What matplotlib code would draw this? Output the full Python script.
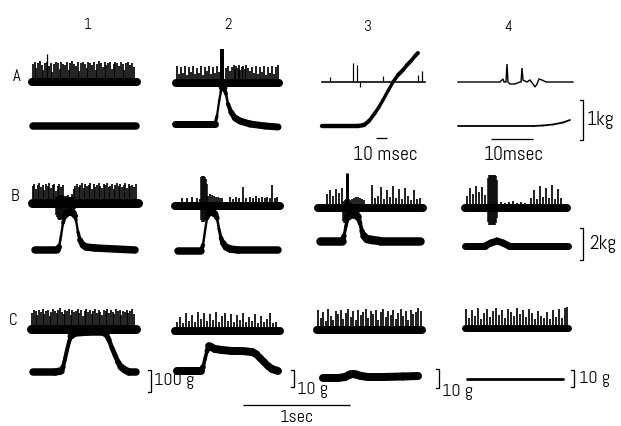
import matplotlib
matplotlib.use('Agg')
import matplotlib.pyplot as plt
import numpy as np
from matplotlib.collections import LineCollection

plt.rcParams['font.family'] = ['Abel', 'DejaVu Sans']

# ---------------- data (relative offsets in trace units) ----------------
col_labels = ['1', '2', '3', '4']
row_labels = ['A', 'B', 'C']

# Row A
A1_spk_t = [1,3,4,6,8,10,11,13,15,17,19,20,22,24,26,28,29,31,33,35,37,38,40,42,44,46,47,49,51,53,55,56,58,60,62,64,65,67,69,71,73,74,76,78,80,82,83,85,87,89,91,92,94,96,98,100,102]
A1_spk_h = [18,20,14,19,21,17,12,19,20,16,19,10,18,20,19,13,20,18,17,20,12,19,21,18,16,20,11,19,20,18,14,20,19,17,20,12,18,21,19,15,20,17,19,20,13,18,20,19,16,20,18,12,19,20,17,19,15]
A1_force_t = [0, 103]
A1_force_v = [0, 0]

A2_spk_t = [1,3,5,7,9,11,13,15,17,19,21,23,25,27,29,31,33,35,37,39,41,43,45,50,52,54,56,58,59,60,62,63,64,66,67,69,70,72,74,76,78,80,82,84,86,88,90,92,94,96,98,100,102]
A2_spk_h = [17,9,16,10,17,8,16,11,17,9,15,10,17,8,16,12,17,9,16,10,17,11,16,15,17,12,16,18,14,17,15,18,13,16,17,14,18,15,12,16,10,17,9,16,11,17,8,16,10,17,9,16,18]
A2_big_t = [46]
A2_big_h = [34]
A2_force_t = [0,20,40,42,44,46,47,49,51,53,56,60,65,75,90,103]
A2_force_v = [0,0,0,8,22,33,37,36,30,20,12,6,3,0,-2,-3]

A3_spk_t = [8,31,35,38,61,96,100]
A3_spk_h = [5,19,17,-5,6,7,11]
A3_force_t = [0,36,42,47,53,57,61,66,71,76,81,85,89,93,96]
A3_force_v = [0,0,1,5,13,19,26,35,44,51,56,61,65,70,73]

A4_emg_t = [0,42,45,46,48,49,50,52,57,62,63,64,65,69,72,75,77,79,81,84,88,115]
A4_emg_v = [0,0,3,0,0,18,0,-2,-2,0,0,14,2,0,2,-2,-5,-2,3,2,0,0]
A4_force_t = [0,75,85,95,105,112]
A4_force_v = [0,0,0.5,1.5,3.5,6]

# Row B
B1_spk_t = [1,2,4,6,7,9,11,12,14,16,17,19,21,22,24,26,27,29,31,34,36,38,40,42,43,45,47,48,50,52,53,55,57,58,60,62,63,65,67,68,70,72,73,75,77,78,80,82,83,85,87,88,90,92,93,95,97,98,100,102,104]
B1_spk_h = [17,19,14,18,20,16,18,13,19,17,20,15,18,19,12,17,19,16,18,7,8,6,9,14,17,19,16,18,20,15,19,17,18,20,14,19,16,18,20,17,15,19,18,20,16,17,19,14,18,20,17,19,16,18,20,15,19,17,18,16,19]
B1_burst_t = [24,25,26,27,28,29,30,31,32,33,34,35,36,37,38,39,40,41,42,43]
B1_burst_up = [6,6,7,7,8,8,8,7,7,6,6,6,6,6,6,6,6,6,5,5]
B1_burst_dn = [12,14,16,17,17,17,16,14,12,11,10,10,10,10,10,10,10,9,8,6]
B1_force_t = [0,22,24,26,28,30,32,35,38,40,41,43,45,48,51,60,100]
B1_force_v = [0,0,3,14,27,34,37,38,37,34,30,18,10,5,3,2,0]

B2_spk_t = [7,12,17,22,25,33,35,37,39,41,43,45,47,55,58,61,64,68,71,75,78,81,84,87,90,92,95,97,100,102]
B2_spk_h = [8,8,9,8,7,10,12,11,10,9,9,8,8,9,7,9,8,19,8,9,8,10,8,9,8,9,8,21,8,9]
B2_burst_t = [26,27,28,29,30,31,32]
B2_burst_up = [29,30,30,30,29,27,22]
B2_burst_dn = [14,16,16,16,15,13,9]
B2_force_t = [0,23,25,27,29,31,34,37,39,41,43,45,48,52,60,100]
B2_force_v = [0,0,6,20,33,38,39,37,33,22,13,8,4,2,1,1]

B3_spk_t = [9,12,15,18,21,24,34,36,38,40,42,44,46,54,57,60,63,66,69,72,75,78,81,84,87,90,93,96,99,102]
B3_spk_h = [14,18,12,19,15,20,9,10,11,11,10,9,8,23,10,12,21,9,18,11,22,10,19,9,20,12,8,18,9,10]
B3_big_t = [29]
B3_big_h = [35]
B3_burst_t = [25,26,27,28,29,30,31,32,33]
B3_burst_up = [6,7,8,9,10,10,9,8,6]
B3_burst_dn = [13,15,15,15,15,14,12,9,5]
B3_force_t = [0,22,24,26,28,30,33,36,38,40,42,44,47,52,60,100]
B3_force_v = [0,0,5,15,24,26,27,26,24,18,10,5,2,1,0,0]

B4_spk_t = [2,5,8,11,14,17,20,36,40,44,48,52,56,60,66,69,72,75,78,81,84,87,90,93,96]
B4_spk_h = [12,20,14,22,16,21,13,6,5,6,7,5,6,5,10,18,9,22,11,20,10,23,9,19,10]
B4_burst_t = [23,24,25,26,27,28,29,30,31,32]
B4_burst_up = [30,33,33,33,33,33,33,33,32,28]
B4_burst_dn = [14,17,17,17,17,17,17,17,15,10]
B4_force_t = [0,20,26,32,38,44,103]
B4_force_v = [0,0,3,5,3,0,0]

# Row C
C1_spk_t = [1,3,5,6,8,10,12,13,15,17,19,20,22,24,26,27,29,31,33,34,36,38,40,41,43,45,47,48,50,52,54,55,57,59,61,62,64,66,68,69,71,73,75,76,78,80,82,83,85,87,89,90,92,94,96,97,99,101,103]
C1_spk_h = [16,19,18,14,19,17,20,15,18,19,13,17,20,18,16,19,21,17,15,19,18,20,14,19,17,18,20,16,19,13,18,20,17,19,15,18,20,16,19,17,14,19,18,20,16,19,17,15,20,18,19,14,18,17,19,16,18,20,15]
C1_force_t = [0,22,28,30,32,34,36,38,42,55,70,73,76,79,82,85,88,92,96,103]
C1_force_v = [0,0,1,5,13,22,30,36,39,40,40,38,32,24,17,10,5,2,0,0]

C2_spk_t = [2,5,8,11,14,17,20,23,26,29,32,35,38,41,44,47,50,53,56,59,62,65,68,71,74,77,80,83,86,89,92,95,98,101]
C2_spk_h = [9,14,8,18,10,16,9,19,12,18,10,17,11,19,9,15,18,10,17,9,16,11,18,9,14,10,17,8,15,9,12,18,8,9]
C2_force_t = [0,24,26,28,30,32,34,38,45,55,65,75,79,83,87,91,95,101]
C2_force_v = [0,0,4,12,20,25,24,22,21,20,20,19,17,13,9,5,2,0]

C3_spk_t = [1,4,6,9,11,14,16,19,21,24,26,29,31,34,36,39,41,44,46,49,51,54,56,59,61,64,66,69,71,74,76,79,81,84,86,89,91,94,96,99,101,104]
C3_spk_h = [20,12,18,9,21,14,10,19,16,20,11,17,21,13,19,10,20,15,18,21,12,19,16,20,10,18,21,13,19,15,20,11,17,21,14,19,10,20,16,18,22,19]
C3_force_t = [0,15,22,27,30,33,38,45,60,80,95]
C3_force_v = [0,0,1,3.5,4,3.5,2,1,1,1.5,2]

C4_spk_t = [1,4,7,10,13,16,19,22,25,28,31,34,37,40,43,46,49,52,55,58,61,64,67,70,73,76,79,82,85,88,91,94,97,100,102]
C4_spk_h = [19,10,18,12,20,9,15,19,11,17,20,13,18,10,19,16,12,20,14,18,11,19,15,9,17,12,10,16,9,18,11,19,10,20,21]
C4_force_t = [0, 96]
C4_force_v = [0, 0]

# ---------------- figure ----------------
W, H = 621, 426
fig = plt.figure(figsize=(W / 100, H / 100), dpi=100)
ax = fig.add_axes([0, 0, 1, 1])
ax.set_xlim(0, W)
ax.set_ylim(H, 0)
ax.axis('off')
PT = 72 / 100  # pixels -> points
K = 'black'
SPK = 1.7      # spike stroke width, px


def band(x0, y0, L, w):
    ax.plot([x0, x0 + L], [y0, y0], color=K, lw=w * PT, solid_capstyle='round')


def spikes(x0, y0, t, h, w=SPK):
    t = np.asarray(t, float)
    h = np.asarray(h, float)
    ax.vlines(x0 + t, y0 - h, y0, colors=K, lw=w * PT)


def burst(x0, y0, t, up, dn, w=1.5):
    t = np.asarray(t, float)
    ax.vlines(x0 + t, y0 - np.asarray(up, float), y0 + np.asarray(dn, float),
              colors=K, lw=w * PT)


def force(x0, y0, t, v, thick, thin, k=0.5):
    x = x0 + np.asarray(t, float)
    y = y0 - np.asarray(v, float)
    segs = [[(x[i], y[i]), (x[i + 1], y[i + 1])] for i in range(len(x) - 1)]
    slope = np.abs(np.diff(y) / np.maximum(np.diff(x), 1e-6))
    widths = np.maximum(thin, thick / np.sqrt(1 + (k * slope) ** 2)) * PT
    lc = LineCollection(segs, linewidths=widths, colors=K,
                        capstyle='round', joinstyle='round')
    ax.add_collection(lc)


def thin_trace(x0, y0, t, v, w):
    ax.plot(x0 + np.asarray(t, float), y0 - np.asarray(v, float), color=K,
            lw=w * PT, solid_joinstyle='miter')


# ---- Row A ----
band(32, 82, 105, 8)
spikes(32, 82, A1_spk_t, A1_spk_h)
spikes(32, 82, [15], [28], w=1.3)
force(33, 125.5, A1_force_t, A1_force_v, 7.5, 2.5)

band(176, 82.5, 103, 8)
spikes(176, 82.5, A2_spk_t, A2_spk_h)
spikes(176, 82.5, A2_big_t, A2_big_h, w=4)
force(175, 124, A2_force_t, A2_force_v, 7, 2.2)

thin_trace(322, 82, [0, 103], [0, 0], 1.6)
spikes(322, 82, A3_spk_t, A3_spk_h, w=1.2)
force(322, 126, A3_force_t, A3_force_v, 4.4, 2.6)

thin_trace(458, 82, A4_emg_t, A4_emg_v, 1.4)
force(458, 126, A4_force_t, A4_force_v, 1.8, 1.8)

# ---- Row B ----
band(32, 203, 106, 9)
spikes(32, 203, B1_spk_t, B1_spk_h)
burst(32, 203, B1_burst_t, B1_burst_up, B1_burst_dn)
force(35, 250, B1_force_t, B1_force_v, 7.5, 2.4)

band(175, 206, 105, 8)
spikes(175, 206, B2_spk_t, B2_spk_h)
burst(175, 206, B2_burst_t, B2_burst_up, B2_burst_dn)
force(178, 251, B2_force_t, B2_force_v, 7.5, 2.4)

band(318, 208, 105, 8)
spikes(318, 208, B3_spk_t, B3_spk_h)
spikes(318, 208, B3_big_t, B3_big_h, w=3)
burst(318, 208, B3_burst_t, B3_burst_up, B3_burst_dn)
force(320, 241, B3_force_t, B3_force_v, 8.5, 2.6)

band(465, 208, 102, 8)
spikes(465, 208, B4_spk_t, B4_spk_h)
burst(465, 208, B4_burst_t, B4_burst_up, B4_burst_dn)
force(465, 246, B4_force_t, B4_force_v, 7, 7)

# ---- Row C ----
band(31, 329, 105, 9)
spikes(31, 329, C1_spk_t, C1_spk_h)
force(33, 372, C1_force_t, C1_force_v, 7.5, 4)

band(175, 331, 105, 8)
spikes(175, 331, C2_spk_t, C2_spk_h)
force(177, 371, C2_force_t, C2_force_v, 8, 2.6)

band(317, 330, 105, 8)
spikes(317, 330, C3_spk_t, C3_spk_h)
force(323, 378, C3_force_t, C3_force_v, 8, 8)

band(465, 328, 103, 7)
spikes(465, 328, C4_spk_t, C4_spk_h)
force(467, 379, C4_force_t, C4_force_v, 2.8, 2.8)

# ---------------- labels & scale bars ----------------
for lab, x, y in zip(col_labels, [88, 228, 368, 508], [25, 25, 27, 27]):
    ax.text(x, y, lab, fontsize=11, ha='center', va='center')
for lab, x, y in zip(row_labels, [17, 15, 13], [77, 197, 321]):
    ax.text(x, y, lab, fontsize=12, ha='center', va='center')


def hbar(x1, x2, y, w=1.3):
    ax.plot([x1, x2], [y, y], color=K, lw=w * PT, solid_capstyle='butt')


def bracket(x, y1, y2, tick=3, w=1.3):
    ax.plot([x - tick, x, x, x - tick], [y1, y1, y2, y2], color=K, lw=w * PT,
            solid_joinstyle='miter')


hbar(376, 387, 138)
ax.text(385, 155, '10 msec', fontsize=14, ha='center', va='center')
hbar(491, 533, 139)
ax.text(514, 155, '10msec', fontsize=14, ha='center', va='center')

bracket(583, 100, 140)
ax.text(587, 120, '1kg', fontsize=14, ha='left', va='center')
bracket(583, 228, 260)
ax.text(589, 244, '2kg', fontsize=14, ha='left', va='center')

bracket(151, 370, 392)
ax.text(154, 381, '100 g', fontsize=13, ha='left', va='center')
bracket(294, 370, 387)
ax.text(297, 390, '10 g', fontsize=13, ha='left', va='center')
bracket(439, 369, 388)
ax.text(442, 392, '10 g', fontsize=13, ha='left', va='center')
bracket(574, 370, 387)
ax.text(579, 379, '10 g', fontsize=13, ha='left', va='center')

hbar(243, 350, 405)
ax.text(297, 418, '1sec', fontsize=13, ha='center', va='center')

fig.savefig('out.png', dpi=100, facecolor='white')
